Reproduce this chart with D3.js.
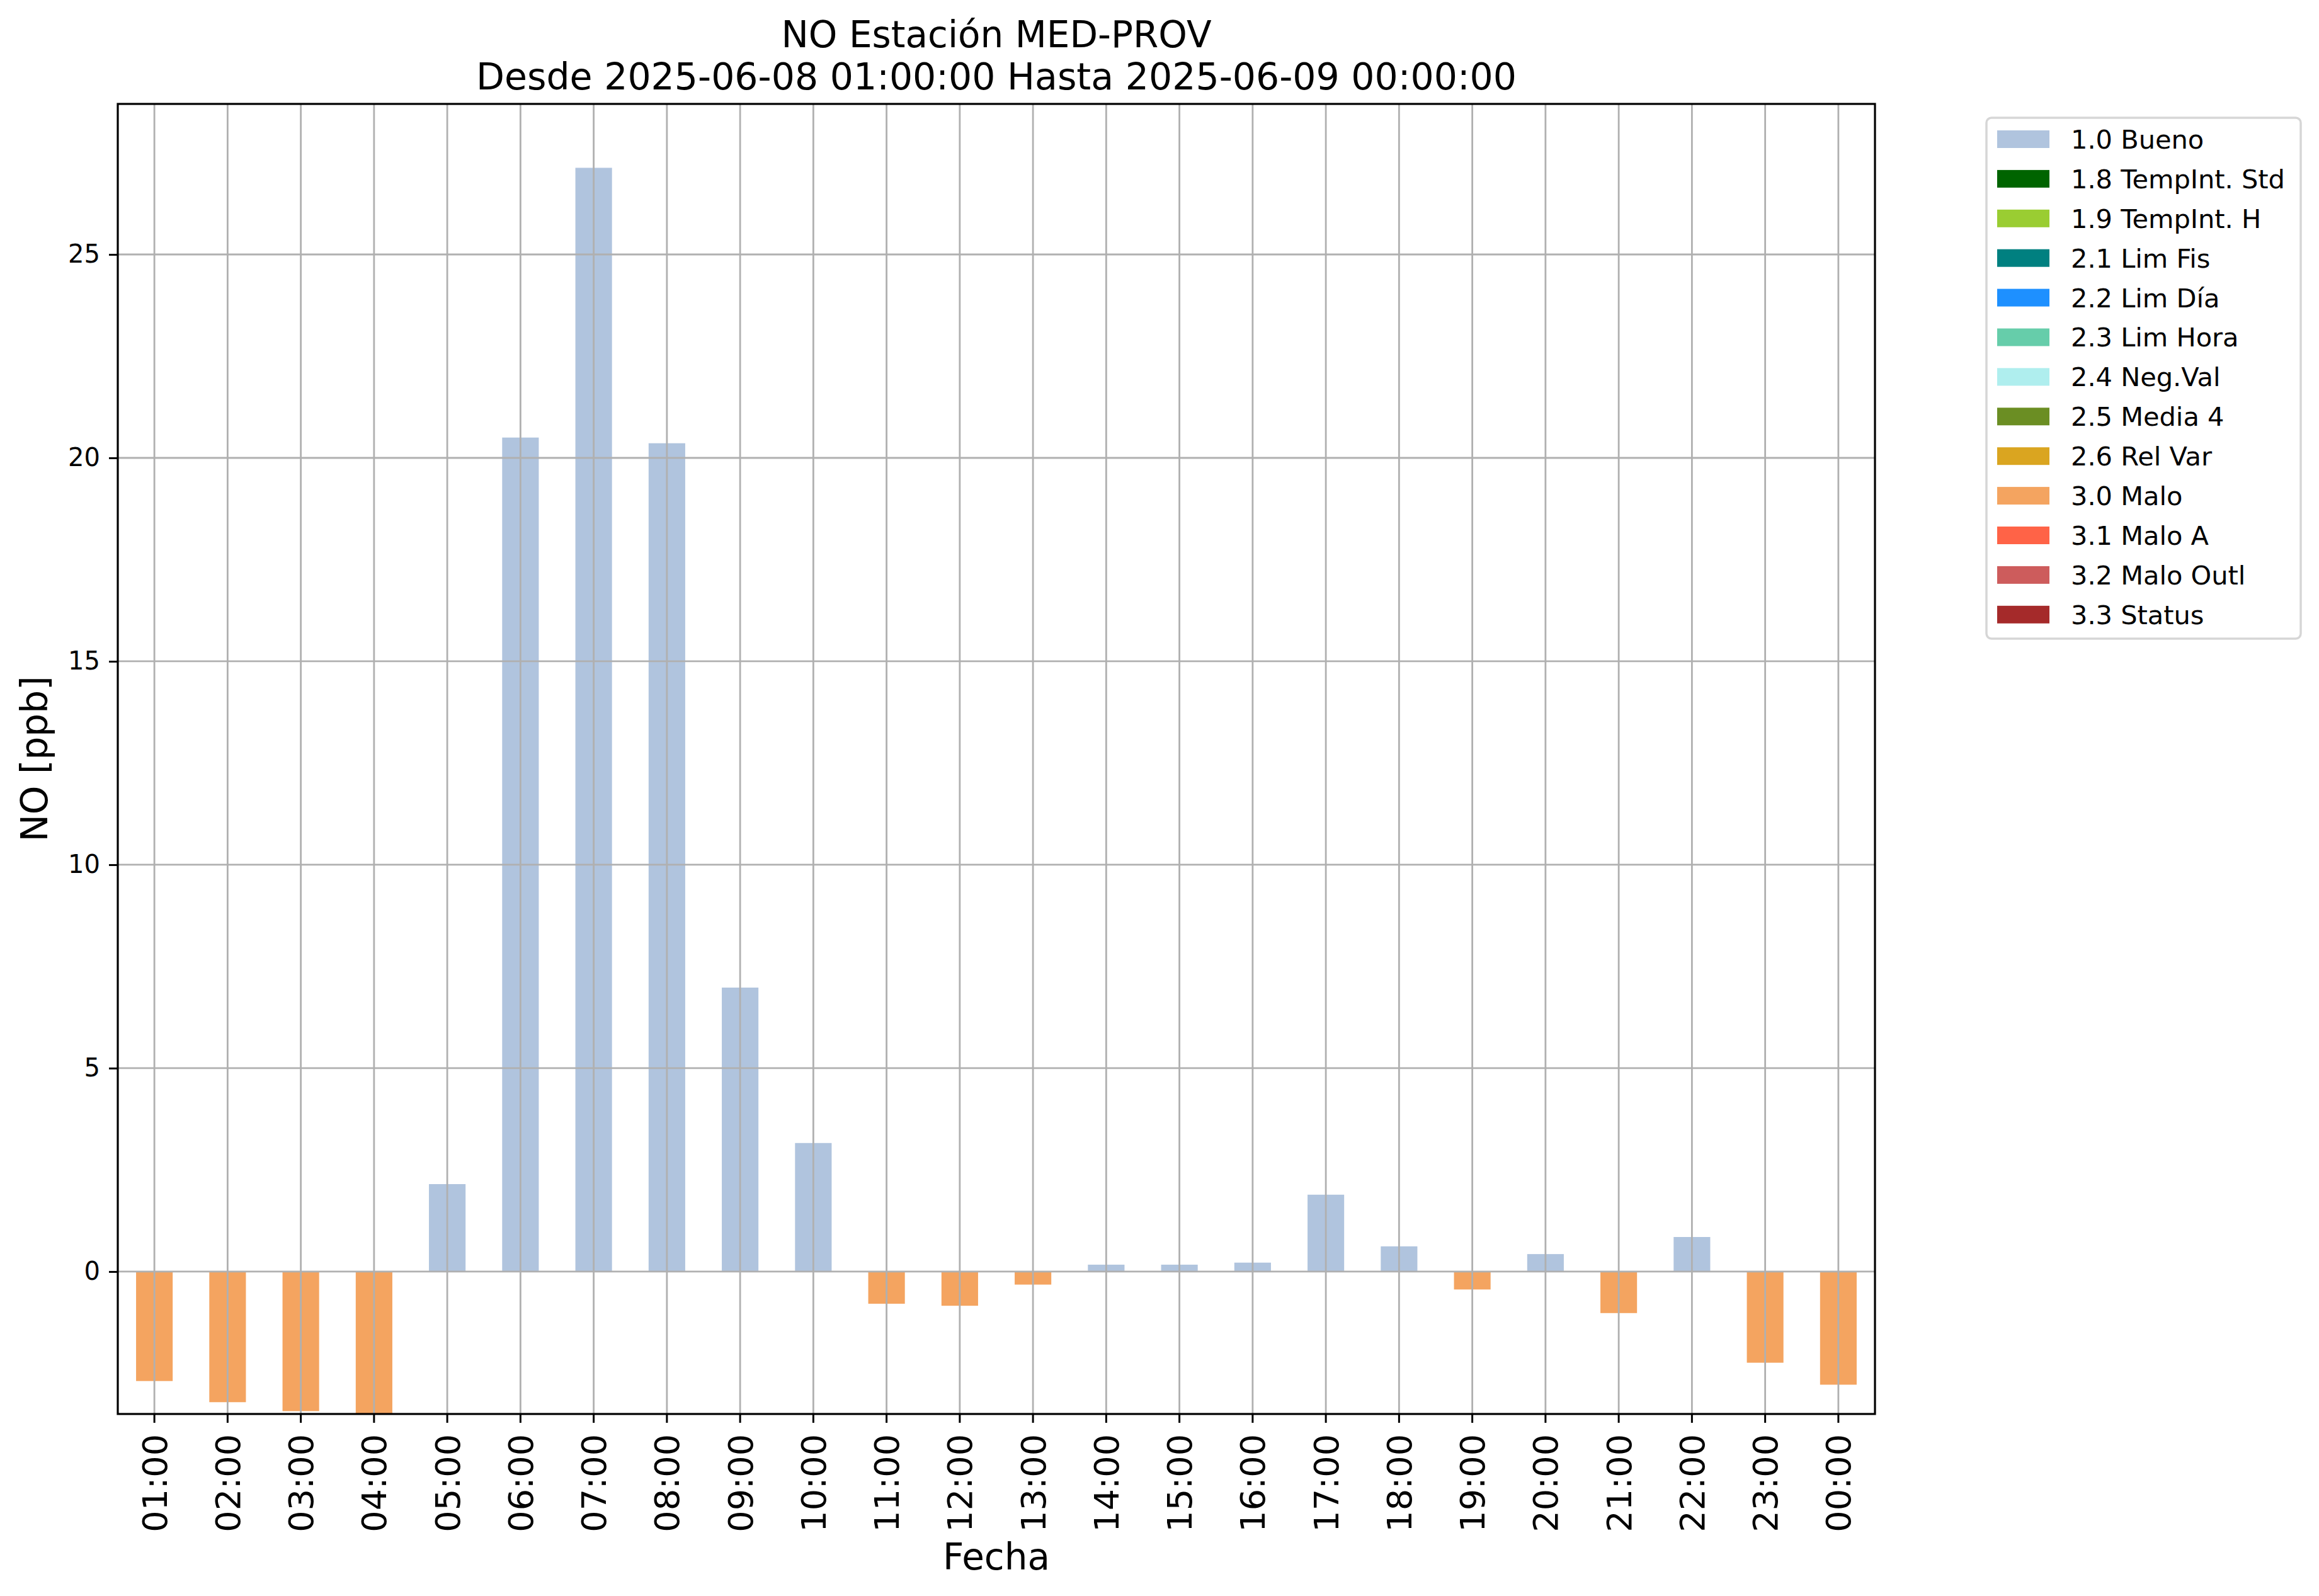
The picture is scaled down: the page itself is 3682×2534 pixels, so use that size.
<!DOCTYPE html>
<html>
<head>
<meta charset="utf-8">
<script src="https://cdn.jsdelivr.net/npm/d3@7"></script>
<style>
  body { margin: 0; background: #ffffff; }
  svg { display: block; }
</style>
</head>
<body>
<div id="chart"></div>
<script>
// Hourly NO values (ppb) and the quality flag of each hour
const hours = ["01:00", "02:00", "03:00", "04:00", "05:00", "06:00", "07:00", "08:00",
    "09:00", "10:00", "11:00", "12:00", "13:00", "14:00", "15:00", "16:00",
    "17:00", "18:00", "19:00", "20:00", "21:00", "22:00", "23:00", "00:00"];
const values = [-2.69, -3.21, -3.43, -3.55, 2.15, 20.5, 27.13, 20.36,
    6.98, 3.16, -0.79, -0.84, -0.32, 0.17, 0.17, 0.22,
    1.89, 0.62, -0.44, 0.43, -1.02, 0.85, -2.24, -2.78];
const flags = ["3.0 Malo", "3.0 Malo", "3.0 Malo", "3.0 Malo", "1.0 Bueno", "1.0 Bueno", "1.0 Bueno", "1.0 Bueno",
    "1.0 Bueno", "1.0 Bueno", "3.0 Malo", "3.0 Malo", "3.0 Malo", "1.0 Bueno", "1.0 Bueno", "1.0 Bueno",
    "1.0 Bueno", "1.0 Bueno", "3.0 Malo", "1.0 Bueno", "3.0 Malo", "1.0 Bueno", "3.0 Malo", "3.0 Malo"];

// Quality categories shown in the legend
const categories = ["1.0 Bueno", "1.8 TempInt. Std", "1.9 TempInt. H", "2.1 Lim Fis", "2.2 Lim Día",
    "2.3 Lim Hora", "2.4 Neg.Val", "2.5 Media 4", "2.6 Rel Var", "3.0 Malo",
    "3.1 Malo A", "3.2 Malo Outl", "3.3 Status"];
const categoryColors = ["#b0c4de", "#006400", "#9acd32", "#008080", "#1e90ff",
    "#66cdaa", "#afeeee", "#6b8e23", "#daa520", "#f4a460",
    "#ff6347", "#cd5c5c", "#a52a2a"];

const yTicks = [0, 5, 10, 15, 20, 25];
const yDomain = [-3.5, 28.7];

const title1 = "NO Estación MED-PROV";
const title2 = "Desde 2025-06-08 01:00:00 Hasta 2025-06-09 00:00:00";

const width = 3682;
const height = 2534;
const plot = { left: 187, right: 2977, top: 165, bottom: 2245 };
const font = "'DejaVu Sans', sans-serif";

const color = d3.scaleOrdinal().domain(categories).range(categoryColors);

const x = d3.scaleBand()
    .domain(hours)
    .range([plot.left, plot.right])
    .paddingInner(0.5)
    .paddingOuter(0.25);

const y = d3.scaleLinear()
    .domain(yDomain)
    .range([plot.bottom, plot.top]);

const svg = d3.select("#chart")
    .append("svg")
    .attr("width", width)
    .attr("height", height)
    .style("background", "#ffffff");

svg.append("clipPath")
    .attr("id", "plot-clip")
    .append("rect")
    .attr("x", plot.left)
    .attr("y", plot.top)
    .attr("width", plot.right - plot.left)
    .attr("height", plot.bottom - plot.top);

// Bars
const rows = hours.map((h, i) => ({ hour: h, value: values[i], flag: flags[i] }));

svg.append("g")
    .attr("clip-path", "url(#plot-clip)")
    .selectAll("rect")
    .data(rows)
    .join("rect")
    .attr("x", d => x(d.hour))
    .attr("width", x.bandwidth())
    .attr("y", d => y(Math.max(0, d.value)))
    .attr("height", d => Math.abs(y(d.value) - y(0)))
    .attr("fill", d => color(d.flag));

// Grid lines drawn over the bars
const grid = svg.append("g")
    .attr("stroke", "#b0b0b0")
    .attr("stroke-width", 2.8);

grid.selectAll("line.vgrid")
    .data(hours)
    .join("line")
    .attr("class", "vgrid")
    .attr("x1", d => x(d) + x.bandwidth() / 2)
    .attr("x2", d => x(d) + x.bandwidth() / 2)
    .attr("y1", plot.top)
    .attr("y2", plot.bottom);

grid.selectAll("line.hgrid")
    .data(yTicks)
    .join("line")
    .attr("class", "hgrid")
    .attr("x1", plot.left)
    .attr("x2", plot.right)
    .attr("y1", d => y(d))
    .attr("y2", d => y(d));

// Axes
const yAxis = svg.append("g")
    .attr("transform", `translate(${plot.left},0)`)
    .call(d3.axisLeft(y).tickValues(yTicks).tickSize(14).tickPadding(14));

yAxis.select(".domain").remove();
yAxis.selectAll("line").attr("stroke", "#000").attr("stroke-width", 3);
yAxis.selectAll("text")
    .style("font-family", font)
    .style("font-size", "40px")
    .attr("fill", "#000");

const xAxis = svg.append("g")
    .attr("transform", `translate(0,${plot.bottom})`)
    .call(d3.axisBottom(x).tickSize(14).tickPadding(0));

xAxis.select(".domain").remove();
xAxis.selectAll("line").attr("stroke", "#000").attr("stroke-width", 3);
xAxis.selectAll("text")
    .style("font-family", font)
    .style("font-size", "54px")
    .attr("fill", "#000")
    .attr("text-anchor", "end")
    .attr("x", 0)
    .attr("y", 0)
    .attr("dy", "0.36em")
    .attr("transform", "translate(0,32) rotate(-90)");

// Frame
svg.append("rect")
    .attr("x", plot.left)
    .attr("y", plot.top)
    .attr("width", plot.right - plot.left)
    .attr("height", plot.bottom - plot.top)
    .attr("fill", "none")
    .attr("stroke", "#000")
    .attr("stroke-width", 3.2);

// Titles and axis labels
const cx = (plot.left + plot.right) / 2;

svg.append("text")
    .attr("x", cx)
    .attr("y", 75)
    .attr("text-anchor", "middle")
    .style("font-family", font)
    .style("font-size", "58px")
    .text(title1);

svg.append("text")
    .attr("x", cx)
    .attr("y", 142)
    .attr("text-anchor", "middle")
    .style("font-family", font)
    .style("font-size", "58.5px")
    .text(title2);

svg.append("text")
    .attr("x", cx)
    .attr("y", 2492)
    .attr("text-anchor", "middle")
    .style("font-family", font)
    .style("font-size", "58px")
    .text("Fecha");

svg.append("text")
    .attr("transform", `translate(75,${(plot.top + plot.bottom) / 2}) rotate(-90)`)
    .attr("text-anchor", "middle")
    .style("font-family", font)
    .style("font-size", "58px")
    .text("NO [ppb]");

// Legend
const legend = svg.append("g");

legend.append("rect")
    .attr("x", 3154)
    .attr("y", 187)
    .attr("width", 499)
    .attr("height", 827)
    .attr("rx", 8)
    .attr("fill", "#ffffff")
    .attr("stroke", "#d6d6d6")
    .attr("stroke-width", 3.5);

const legendItems = legend.selectAll("g.item")
    .data(categories)
    .join("g")
    .attr("class", "item")
    .attr("transform", (d, i) => `translate(3171, ${221 + i * 62.9})`);

legendItems.append("rect")
    .attr("x", 0)
    .attr("y", -14)
    .attr("width", 83)
    .attr("height", 28)
    .attr("fill", d => color(d));

legendItems.append("text")
    .attr("x", 117)
    .attr("y", 0)
    .attr("dy", "0.36em")
    .style("font-family", font)
    .style("font-size", "41.5px")
    .text(d => d);
</script>
</body>
</html>
